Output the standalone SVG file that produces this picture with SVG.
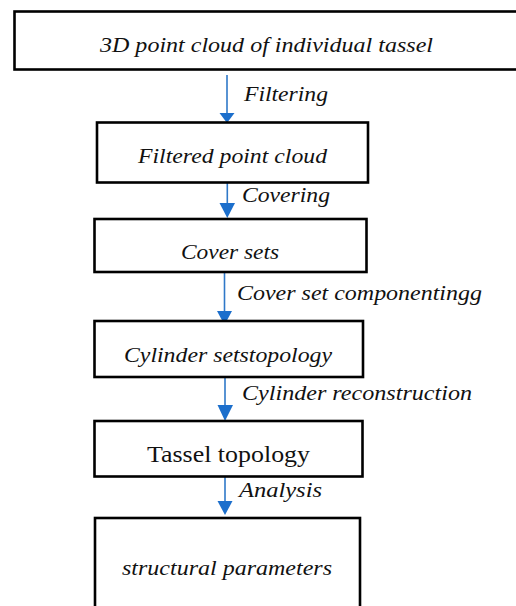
<svg xmlns="http://www.w3.org/2000/svg" width="516" height="606" viewBox="0 0 516 606">
<style>
.box{fill:#fff;stroke:#000;stroke-width:2.6}
.t{font-family:"Liberation Serif","Times New Roman",serif;font-style:italic;font-size:22px;fill:#111}
.u{font-family:"Liberation Serif","Times New Roman",serif;font-size:23px;fill:#111}
.ln{stroke:#2f78c8;stroke-width:1.6;fill:none}
.hd{fill:#1c6fcc}
</style>
<rect x="0" y="0" width="516" height="606" fill="#fff"/>
<g id="connectors">
<line class="ln" x1="227" y1="75" x2="227" y2="114"/>
<polygon class="hd" points="219.5,113 234.5,113 227,123"/>
<line class="ln" x1="227.3" y1="183" x2="227.3" y2="204"/>
<polygon class="hd" points="219.5,203 235,203 227.3,218"/>
<line class="ln" x1="224.5" y1="272" x2="224.5" y2="312"/>
<polygon class="hd" points="217,311 232,311 224.5,325"/>
<line class="ln" x1="225" y1="377" x2="225" y2="406"/>
<polygon class="hd" points="217.5,405 233,405 225,421"/>
<line class="ln" x1="225" y1="467" x2="225" y2="502"/>
<polygon class="hd" points="217.5,501 232.5,501 225,515"/>
<text class="t" x="244" y="101" textLength="84" lengthAdjust="spacingAndGlyphs">Filtering</text>
<text class="t" x="242" y="202" textLength="88" lengthAdjust="spacingAndGlyphs">Covering</text>
<text class="t" x="237" y="300" textLength="245" lengthAdjust="spacingAndGlyphs">Cover set componentingg</text>
<text class="t" x="242" y="400" textLength="230" lengthAdjust="spacingAndGlyphs">Cylinder reconstruction</text>
<text class="t" x="239" y="497" textLength="83" lengthAdjust="spacingAndGlyphs">Analysis</text>
</g>
<g id="n1">
<rect class="box" x="14.5" y="11.5" width="520" height="58"/>
<text class="t" x="100" y="52" textLength="333" lengthAdjust="spacingAndGlyphs">3D point cloud of individual tassel</text>
</g>
<g id="n2">
<rect class="box" x="97" y="122.5" width="271" height="60"/>
<text class="t" x="138" y="163" textLength="189" lengthAdjust="spacingAndGlyphs">Filtered point cloud</text>
</g>
<g id="n3">
<rect class="box" x="94.5" y="219" width="272" height="53"/>
<text class="t" x="181" y="259" textLength="98" lengthAdjust="spacingAndGlyphs">Cover sets</text>
</g>
<g id="n4">
<rect class="box" x="94.5" y="321" width="268.5" height="56"/>
<text class="t" x="124" y="362" textLength="208" lengthAdjust="spacingAndGlyphs">Cylinder setstopology</text>
</g>
<g id="n5">
<rect class="box" x="94.5" y="421" width="268" height="55.5"/>
<text class="u" x="147" y="462" textLength="163" lengthAdjust="spacingAndGlyphs">Tassel topology</text>
</g>
<g id="n6">
<rect class="box" x="95" y="518" width="265" height="110"/>
<text class="t" x="122" y="575" textLength="210" lengthAdjust="spacingAndGlyphs">structural parameters</text>
</g>
</svg>
